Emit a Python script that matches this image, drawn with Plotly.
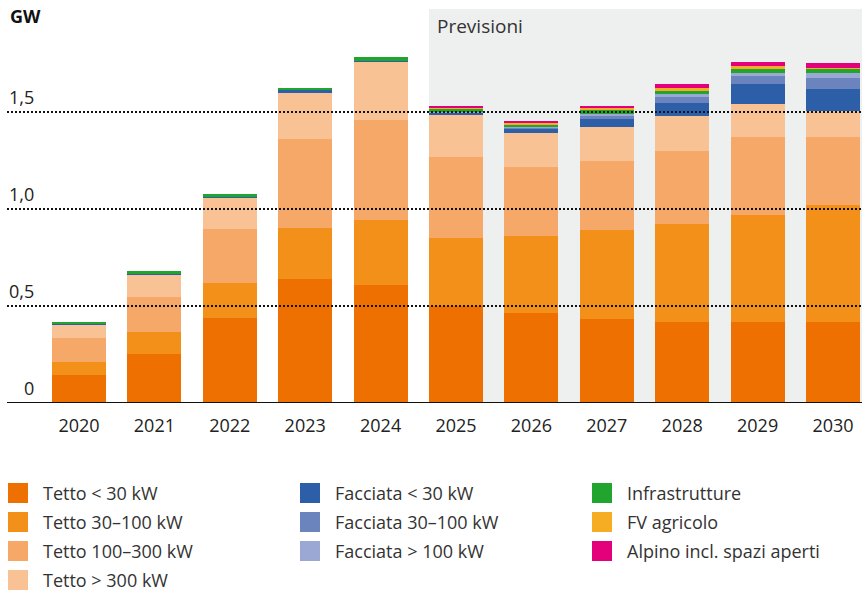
import plotly.graph_objects as go

years = ["2020", "2021", "2022", "2023", "2024", "2025", "2026", "2027", "2028", "2029", "2030"]

tetto_lt30 = [0.144, 0.253, 0.438, 0.639, 0.608, 0.500, 0.464, 0.433, 0.418, 0.418, 0.418]
tetto_30_100 = [0.067, 0.113, 0.181, 0.263, 0.335, 0.351, 0.397, 0.459, 0.505, 0.551, 0.603]
tetto_100_300 = [0.124, 0.180, 0.278, 0.459, 0.516, 0.417, 0.355, 0.355, 0.376, 0.402, 0.350]
tetto_gt300 = [0.072, 0.114, 0.160, 0.242, 0.299, 0.217, 0.176, 0.176, 0.180, 0.170, 0.134]
facciata_lt30 = [0.005, 0.010, 0.010, 0.010, 0.005, 0.012, 0.021, 0.043, 0.067, 0.103, 0.113]
facciata_30_100 = [0, 0, 0, 0, 0, 0.003, 0.005, 0.015, 0.031, 0.041, 0.057]
facciata_gt100 = [0, 0, 0, 0, 0, 0.002, 0.005, 0.009, 0.015, 0.015, 0.026]
infrastrutture = [0.006, 0.010, 0.010, 0.011, 0.021, 0.018, 0.015, 0.022, 0.021, 0.026, 0.021]
fv_agricolo = [0, 0, 0, 0, 0, 0.002, 0.003, 0.007, 0.010, 0.010, 0.005]
alpino = [0, 0, 0, 0, 0, 0.010, 0.012, 0.012, 0.021, 0.021, 0.026]

series_names = ["Tetto < 30 kW", "Tetto 30–100 kW", "Tetto 100–300 kW", "Tetto > 300 kW",
                "Facciata < 30 kW", "Facciata 30–100 kW", "Facciata > 100 kW",
                "Infrastrutture", "FV agricolo", "Alpino incl. spazi aperti"]
series_values = [tetto_lt30, tetto_30_100, tetto_100_300, tetto_gt300,
                 facciata_lt30, facciata_30_100, facciata_gt100,
                 infrastrutture, fv_agricolo, alpino]
series_colors = ["#EE7000", "#F39019", "#F6A868", "#F9C294",
                 "#2C5FA8", "#6C84BE", "#9AA8D3",
                 "#22A52F", "#F6AD24", "#E3007A"]

y_ticks = [0, 0.5, 1.0, 1.5]
y_tick_labels = ["0", "0,5", "1,0", "1,5"]

forecast_start = "2025"

W, H = 862, 591
ML, MR, MT, MB = 7, 0, 9, 188
X_MIN, X_MAX = -0.955, 10.385
Y_TOP = 2.031
BARGAP = 0.284
FONT = "Open Sans"
TXT = "#222222"

fig = go.Figure()
for name, vals, col in zip(series_names, series_values, series_colors):
    fig.add_trace(go.Bar(x=years, y=vals, name=name, marker=dict(color=col, line=dict(width=0)),
                         showlegend=False))

# Forecast shading
fs = years.index(forecast_start)
bw = 1 - BARGAP
fig.add_shape(type="rect", xref="x", yref="y", x0=fs - bw / 2, x1=X_MAX, y0=0, y1=Y_TOP,
              fillcolor="#EEEFEF", line=dict(width=0), layer="below")
fig.add_annotation(xref="x", yref="paper", x=fs - bw / 2, y=1, xanchor="left", yanchor="top",
                   text="Previsioni", showarrow=False, xshift=6, yshift=-2,
                   font=dict(family=FONT, size=19, color="#333333"))

# Gridlines (above bars) and labels
for v, lab in zip(y_ticks, y_tick_labels):
    if v > 0:
        fig.add_shape(type="line", xref="paper", yref="y", x0=0, x1=1, y0=v, y1=v,
                      line=dict(color="#111111", width=2, dash="2px,2px"), layer="above")
    fig.add_annotation(xref="paper", yref="y", x=(36 - ML) / (W - ML - MR), y=v,
                       xanchor="right", yanchor="middle", yshift=15, text=lab, showarrow=False,
                       font=dict(family=FONT, size=18, color=TXT))
fig.add_shape(type="line", xref="paper", yref="y", x0=0, x1=1, y0=0, y1=0,
              line=dict(color="#111111", width=2), layer="above")

fig.add_annotation(xref="paper", yref="paper", x=0, y=1, xanchor="left", yanchor="middle",
                   yshift=-7, xshift=1, text="<b>GW</b>", showarrow=False,
                   font=dict(family=FONT, size=18, color="#111111"))

# Manual legend, column-major 4/3/3
col_x = [8, 300, 592]
row_y = [493, 522, 551, 580]
groups = [[0, 1, 2, 3], [4, 5, 6], [7, 8, 9]]
pw = W - ML - MR
ph = H - MT - MB
for c, grp in enumerate(groups):
    for r, idx in enumerate(grp):
        cx = col_x[c]
        cy = row_y[r]
        fig.add_shape(type="rect", xref="paper", yref="paper",
                      x0=(cx - ML) / pw, x1=(cx + 20 - ML) / pw,
                      y0=(H - MB - (cy + 10)) / ph, y1=(H - MB - (cy - 10)) / ph,
                      fillcolor=series_colors[idx], line=dict(width=0))
        fig.add_annotation(xref="paper", yref="paper", x=(cx + 33 - ML) / pw,
                           y=(H - MB - cy) / ph, xanchor="left", yanchor="middle",
                           text=series_names[idx], showarrow=False,
                           font=dict(family=FONT, size=18, color="#333333"))

fig.update_layout(
    width=W, height=H, margin=dict(l=ML, r=MR, t=MT, b=MB, pad=0),
    barmode="stack", bargap=BARGAP,
    plot_bgcolor="white", paper_bgcolor="white",
    font=dict(family=FONT, size=17, color=TXT),
    xaxis=dict(type="category", range=[X_MIN, X_MAX], showgrid=False, zeroline=False,
               showline=False, ticks="outside", ticklen=6, tickcolor="rgba(0,0,0,0)",
               tickfont=dict(family=FONT, size=18, color=TXT)),
    yaxis=dict(range=[0, Y_TOP], showgrid=False, zeroline=False, showticklabels=False,
               showline=False),
)

fig.write_html("out.html", config={"displayModeBar": False},
               post_script="document.body.style.margin='0';document.body.style.overflow='hidden';")
